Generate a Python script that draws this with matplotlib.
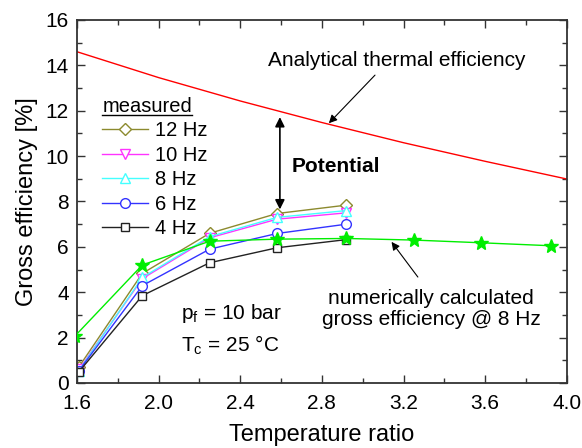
import matplotlib
matplotlib.use("Agg")
import matplotlib.pyplot as plt
from matplotlib.ticker import MultipleLocator, FormatStrFormatter
from matplotlib.lines import Line2D

plt.rcParams['font.family'] = ['Liberation Sans', 'DejaVu Sans']

# Measured gross efficiency [%] vs. temperature ratio
ratio_meas = [1.61, 1.92, 2.25, 2.58, 2.92]
eff_12hz = [0.72, 4.83, 6.60, 7.47, 7.84]
eff_10hz = [0.60, 4.60, 6.40, 7.22, 7.50]
eff_8hz = [0.55, 4.65, 6.45, 7.30, 7.60]
eff_6hz = [0.55, 4.29, 5.90, 6.59, 7.00]
eff_4hz = [0.50, 3.85, 5.30, 5.96, 6.32]

# Numerically calculated gross efficiency at 8 Hz
ratio_num = [1.59, 1.92, 2.25, 2.58, 2.92, 3.25, 3.58, 3.92]
eff_num = [2.07, 5.20, 6.25, 6.34, 6.37, 6.30, 6.18, 6.05]

# Analytical thermal efficiency
ratio_ana = [1.6, 2.0, 2.4, 2.8, 3.2, 3.6, 4.0]
eff_ana = [14.60, 13.46, 12.43, 11.48, 10.59, 9.77, 8.99]

fig = plt.figure(figsize=(5.82, 4.48), dpi=100)
ax = fig.add_axes([0.1323, 0.1451, 0.8417, 0.8103])

ax.plot(ratio_ana, eff_ana, color='#ff0000', lw=1.0)

series = [
    ('12 Hz', eff_12hz, '#8c8a2e', 'D', 6.5),
    ('10 Hz', eff_10hz, '#ff33ff', 'v', 7.5),
    ('8 Hz', eff_8hz, '#44ffff', '^', 7.5),
    ('6 Hz', eff_6hz, '#3333ff', 'o', 7),
    ('4 Hz', eff_4hz, '#222222', 's', 5.5),
]
handles = []
for label, vals, col, mk, ms in series:
    h, = ax.plot(ratio_meas, vals, color=col, lw=1.0, marker=mk, ms=ms,
                 mfc='white', mec=col, mew=1.0, label=label)
    handles.append(h)

ax.plot(ratio_num, eff_num, color='#00ee00', lw=1.0, marker='*', ms=10,
        mfc='#00ee00', mec='#00ee00', zorder=5)

ax.set_xlim(1.6, 4.0)
ax.set_ylim(0, 16)
ax.xaxis.set_major_locator(MultipleLocator(0.4))
ax.xaxis.set_minor_locator(MultipleLocator(0.2))
ax.xaxis.set_major_formatter(FormatStrFormatter('%.1f'))
ax.yaxis.set_major_locator(MultipleLocator(2))
ax.yaxis.set_minor_locator(MultipleLocator(1))
ax.tick_params(which='both', direction='in', top=True, right=True,
               labelsize=15, width=1.0, color='#333333')
ax.tick_params(axis='x', which='major', pad=8)
ax.tick_params(axis='y', which='major', pad=6)
ax.tick_params(which='major', length=6)
ax.tick_params(which='minor', length=3.5)
for s in ax.spines.values():
    s.set_linewidth(1.3)
    s.set_color('#333333')

ax.set_xlabel('Temperature ratio', fontsize=17, labelpad=8)
ax.set_ylabel('Gross efficiency [%]', fontsize=17, labelpad=5)

leg = ax.legend(handles=handles, title='measured', loc='upper left',
                bbox_to_anchor=(0.035, 0.81), frameon=False, fontsize=14.5,
                title_fontsize=14.5, handlelength=2.25, handletextpad=0.35,
                labelspacing=0.27, borderaxespad=0)
leg._legend_box.align = 'left'

ax.text(3.167, 14.23, 'Analytical thermal efficiency', fontsize=15,
        ha='center', va='center')
ax.annotate('', xy=(2.834, 11.45), xytext=(3.06, 13.57),
            arrowprops=dict(arrowstyle='-|>', color='black', lw=0.8,
                            mutation_scale=12, shrinkA=0, shrinkB=0))
ax.annotate('', xy=(2.594, 11.72), xytext=(2.594, 7.65),
            arrowprops=dict(arrowstyle='<|-|>', color='black', lw=1.2,
                            mutation_scale=14, shrinkA=0, shrinkB=0))
ax.text(2.651, 9.56, 'Potential', fontsize=15, fontweight='bold',
        ha='left', va='center')
ax.text(3.334, 3.26, 'numerically calculated\ngross efficiency @ 8 Hz',
        fontsize=15, ha='center', va='center', linespacing=1.1)
ax.annotate('', xy=(3.141, 6.22), xytext=(3.27, 4.67),
            arrowprops=dict(arrowstyle='-|>', color='black', lw=0.8,
                            mutation_scale=12, shrinkA=0, shrinkB=0))
ax.text(2.11, 3.08, r'p$_\mathregular{f}$ = 10 bar', fontsize=15,
        ha='left', va='center')
ax.text(2.11, 1.67, r'T$_\mathregular{c}$ = 25 °C', fontsize=15,
        ha='left', va='center')

# underline the legend title
fig.canvas.draw()
r = fig.canvas.get_renderer()
tb = leg.get_title().get_window_extent(r)
inv = fig.transFigure.inverted()
(x0, y0), (x1, _) = inv.transform([(tb.x0, tb.y0 + 1), (tb.x1, tb.y0)])
fig.add_artist(Line2D([x0, x1], [y0, y0], color='black', lw=1.0,
                      transform=fig.transFigure))

fig.savefig('out.png', dpi=100)
